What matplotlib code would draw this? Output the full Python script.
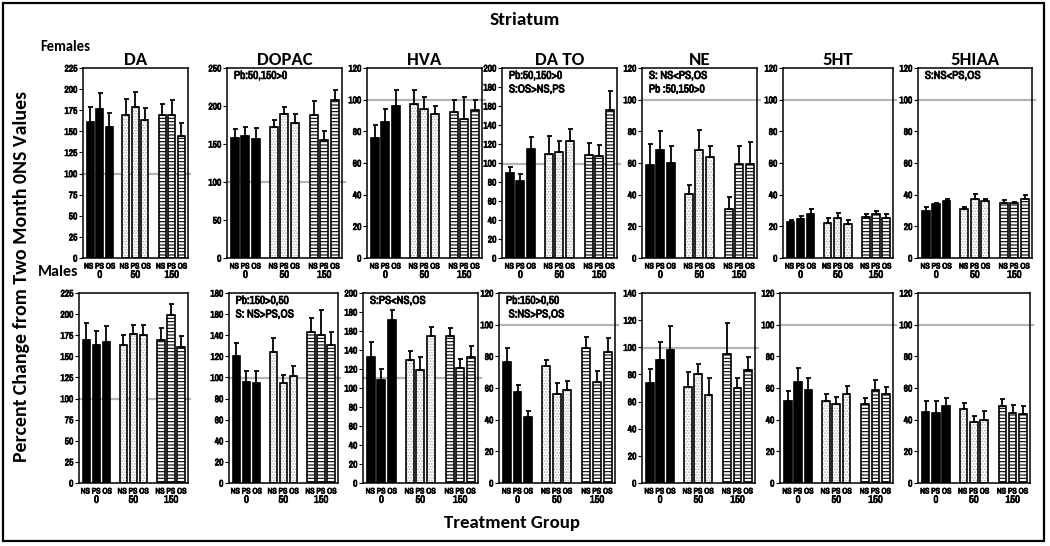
"""Striatum monoamines: percent change from two-month 0NS values, females and males."""

import matplotlib

matplotlib.use("Agg")
import matplotlib.pyplot as plt
from matplotlib.patches import Rectangle
import matplotlib.patheffects as pe
import matplotlib.transforms as mtransforms
import numpy as np

NARROW = ["Archivo Narrow", "Liberation Sans", "DejaVu Sans"]
HEAD = ["Carlito", "Source Sans 3", "Lato", "DejaVu Sans"]
# Archivo Narrow only ships a regular weight here, so fake the bold with a thin stroke
BOLDEN = [pe.withStroke(linewidth=0.55, foreground="black")]
plt.rcParams["hatch.linewidth"] = 0.8

TITLES = ["DA", "DOPAC", "HVA", "DA TO", "NE", "5HT", "5HIAA"]
GROUPS = ["0", "50", "150"]
STRAINS = "NS PS OS"

# females: bar heights and tops of the error bars (NS PS OS at 0, 50, 150 Pb)
f_da = [161, 176, 155, 169, 179, 164, 169, 169, 144]
f_da_top = [179, 195, 172, 188, 197, 178, 182, 187, 160]
f_dopac = [158, 161, 157, 172, 189, 178, 188, 155, 208]
f_dopac_top = [170, 173, 171, 182, 199, 189, 207, 167, 221]
f_hva = [76, 86, 96, 97, 94, 91, 92, 87.5, 93.5]
f_hva_top = [84, 94, 106, 106, 102, 96, 100, 101.5, 100]
f_dato = [89, 81, 115, 110, 112, 123, 108, 107, 156]
f_dato_top = [96, 88, 127, 128, 123, 136, 121, 119, 176]
f_ne = [59, 68.5, 60, 40.5, 68, 64, 31, 59.5, 59.5]
f_ne_top = [72, 80, 70.5, 46, 81, 71, 38.5, 71, 73.5]
f_5ht = [22.5, 24.5, 27.5, 22, 25.5, 21.5, 26, 28, 25]
f_5ht_top = [24, 26.5, 31, 25, 28.5, 24, 28, 30, 27.5]
f_5hiaa = [30, 34, 36, 31, 37.5, 36, 35, 34.5, 37]
f_5hiaa_top = [32.5, 34.5, 37.5, 32.5, 40.5, 37.5, 36.5, 35.5, 40]

# males
m_da = [169, 164, 167, 164, 176, 175, 169, 199, 161]
m_da_top = [190, 180, 186, 175, 187, 187, 184, 212, 174]
m_dopac = [120, 96, 95, 124.5, 95, 101.5, 143, 140, 131]
m_dopac_top = [133, 106, 106, 137, 102, 111, 156, 164, 143]
m_hva = [133, 108, 172, 130, 119, 155, 155, 121, 133]
m_hva_top = [148, 120, 182, 139, 133, 164, 163, 131, 144]
m_dato = [76.5, 57.5, 41.5, 74, 56.5, 59, 85, 64, 83]
m_dato_top = [85, 62, 45.5, 78, 63, 64.5, 92, 71, 91.5]
m_ne = [73.5, 90.5, 98, 71, 80, 64.5, 95, 70, 83.5]
m_ne_top = [84, 104, 116, 81.5, 87.5, 77.5, 118, 77.5, 92.5]
m_5ht = [51.5, 63.5, 59, 52, 50, 56.5, 50, 59, 56]
m_5ht_top = [58, 72.5, 66.5, 56, 54.5, 61, 53.5, 65, 60.5]
m_5hiaa = [45, 44, 48.5, 46.5, 38.5, 40, 48.5, 44, 43.5]
m_5hiaa_top = [51.5, 51.5, 53.5, 50.5, 42.5, 45.5, 53, 49.5, 48.5]

f_ymax = [225, 250, 120, 200, 120, 120, 120]
f_ystep = [25, 50, 20, 20, 20, 20, 20]
m_ymax = [225, 180, 200, 120, 140, 120, 120]
m_ystep = [25, 20, 20, 20, 20, 20, 20]

# grey reference line as drawn in each panel
f_ref = [100, 100, 100, 99, 100, 100, 100]
m_ref = [100, 99.5, 111, 100, 99.5, 100, 100]

f_notes = ["", "Pb:50,150>0", "", "Pb:50,150>0\nS:OS>NS,PS",
           "S: NS<PS,OS\nPb :50,150>0", "", "S:NS<PS,OS"]
m_notes = ["", "Pb:150>0,50\nS: NS>PS,OS", "S:PS<NS,OS",
           "Pb:150>0,50\n S:NS>PS,OS", "", "", ""]

FEMALES = [(f_da, f_da_top), (f_dopac, f_dopac_top), (f_hva, f_hva_top),
           (f_dato, f_dato_top), (f_ne, f_ne_top), (f_5ht, f_5ht_top),
           (f_5hiaa, f_5hiaa_top)]
MALES = [(m_da, m_da_top), (m_dopac, m_dopac_top), (m_hva, m_hva_top),
         (m_dato, m_dato_top), (m_ne, m_ne_top), (m_5ht, m_5ht_top),
         (m_5hiaa, m_5hiaa_top)]

# panel boxes in pixels (left, right) for each row
W, H = 1050, 546
F_X = [(83, 188), (227, 342), (367, 482), (502, 617), (642, 757), (783, 893), (918, 1032)]
M_X = [(79, 188), (229, 338), (363, 478), (499, 615), (642, 755), (780, 893), (918, 1030)]
F_Y = (68, 258)
M_Y = (293, 483)

POS = np.array([0, 1, 2, 3.7, 4.7, 5.7, 7.5, 8.5, 9.5])
BAR_W = 0.74


def draw_panel(ax, vals, tops, ymax, ystep, ref, note):
    vals = np.asarray(vals, dtype=float)
    tops = np.asarray(tops, dtype=float)
    g0, g1, g2 = slice(0, 3), slice(3, 6), slice(6, 9)
    ax.bar(POS[g0], vals[g0], BAR_W, color="black", edgecolor="black", lw=1.2, zorder=2)
    ax.bar(POS[g1], vals[g1], BAR_W, color="white", edgecolor="#b0b0b0", hatch="......", lw=0, zorder=2)
    ax.bar(POS[g1], vals[g1], BAR_W, fill=False, edgecolor="black", lw=1.2, zorder=3)
    ax.bar(POS[g2], vals[g2], BAR_W, color="white", edgecolor="black", hatch="-----", lw=1.2, zorder=2)
    ax.errorbar(POS, vals, yerr=[np.zeros_like(vals), tops - vals], fmt="none",
                ecolor="black", elinewidth=1.3, capsize=1.8, capthick=1.3, zorder=4)
    ax.set_xlim(-0.75, 10.2)
    ax.set_ylim(0, ymax)
    ax.plot([-0.75, 10.45], [ref, ref], color="#b4b4b4", lw=1.6, clip_on=False, zorder=1)
    ax.set_yticks(np.arange(0, ymax + 1, ystep))
    ax.set_xticks([])
    ax.tick_params(axis="y", length=3, width=0.8, pad=1)
    for lab in ax.get_yticklabels():
        lab.set_family(NARROW)
        lab.set_fontsize(6.8)
        lab.set_path_effects(BOLDEN)
    for sp in ax.spines.values():
        sp.set_linewidth(1.1)
    trans = mtransforms.blended_transform_factory(ax.transData, ax.transAxes)
    for i, grp in enumerate(GROUPS):
        cx = POS[3 * i + 1]
        ax.text(cx, -0.045, STRAINS, transform=trans, ha="center", va="center",
                fontsize=5.8, family=NARROW, path_effects=BOLDEN)
        ax.text(cx, -0.088, grp, transform=trans, ha="center", va="center",
                fontsize=7.6, family=NARROW, path_effects=BOLDEN)
    if note:
        ax.text(0.06, 0.985, note, transform=ax.transAxes, ha="left", va="top",
                fontsize=8.2, family=NARROW, linespacing=1.45, path_effects=BOLDEN)


fig = plt.figure(figsize=(W / 100, H / 100), dpi=100)

for row, (xs, ys, data, ymaxes, ysteps, refs, notes) in enumerate([
    (F_X, F_Y, FEMALES, f_ymax, f_ystep, f_ref, f_notes),
    (M_X, M_Y, MALES, m_ymax, m_ystep, m_ref, m_notes),
]):
    for j, ((x0, x1), (vals, tops)) in enumerate(zip(xs, data)):
        ax = fig.add_axes([x0 / W, 1 - ys[1] / H, (x1 - x0) / W, (ys[1] - ys[0]) / H])
        draw_panel(ax, vals, tops, ymaxes[j], ysteps[j], refs[j], notes[j])
        if row == 0:
            ax.set_title(TITLES[j], fontsize=13.5, fontweight="bold", family=HEAD, pad=1)

fig.text(525 / W, 1 - 20 / H, "Striatum", ha="center", va="center",
         fontsize=14, fontweight="bold", family=HEAD)
fig.text(40 / W, 1 - 47 / H, "Females", ha="left", va="center",
         fontsize=10.5, fontweight="bold", family=HEAD)
fig.text(38 / W, 1 - 272 / H, "Males", ha="left", va="center",
         fontsize=11.5, fontweight="bold", family=HEAD)
fig.text(22 / W, 1 - 276 / H, "Percent Change from Two Month 0NS Values", rotation=90,
         ha="center", va="center", fontsize=14.3, fontweight="bold", family=HEAD)
fig.text(512 / W, 1 - 523 / H, "Treatment Group", ha="center", va="center",
         fontsize=13.5, fontweight="bold", family=HEAD)

fig.add_artist(Rectangle((3 / W, 5 / H), 1041 / W, 538 / H, transform=fig.transFigure,
                         fill=False, lw=1.6, ec="black"))

fig.savefig("out.png", dpi=100)
